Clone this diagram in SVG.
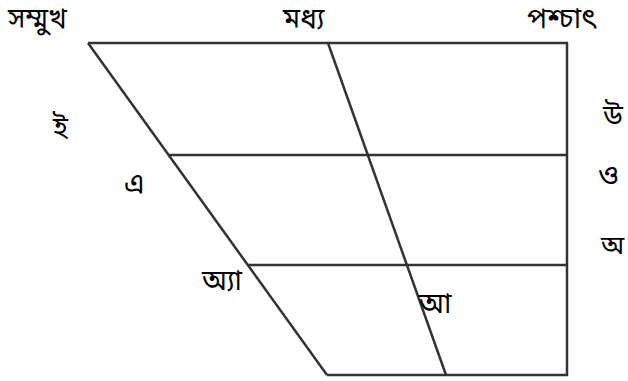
<svg xmlns="http://www.w3.org/2000/svg" width="628" height="381" viewBox="0 0 628 381">
<style>
.t{font-family:"Noto Sans Bengali","Noto Sans","Lohit Bengali","FreeSans",sans-serif;font-size:28px;fill:#000}
.l{stroke:#333;stroke-width:2.5;fill:none}
</style>
<rect width="628" height="381" fill="#fff"/>
<g id="connectors">
<line class="l" x1="88" y1="43" x2="568" y2="43"/>
<line class="l" x1="567" y1="43" x2="567" y2="376"/>
<line class="l" x1="327" y1="375" x2="568" y2="375"/>
<line class="l" x1="88" y1="43" x2="327" y2="375"/>
<line class="l" x1="328" y1="43" x2="446" y2="375"/>
<line class="l" x1="168" y1="155" x2="567" y2="155"/>
<line class="l" x1="248" y1="265" x2="567" y2="265"/>
</g>
<g id="front"><text class="t" x="8" y="28">সম্মুখ</text></g>
<g id="central"><text class="t" x="283" y="28">মধ্য</text></g>
<g id="back"><text class="t" x="527" y="28">পশ্চাৎ</text></g>
<g id="i"><text class="t" x="53" y="137">ই</text></g>
<g id="e"><text class="t" x="124" y="193">এ</text></g>
<g id="ae"><text class="t" x="202" y="290">অ্যা</text></g>
<g id="aa"><text class="t" x="419" y="313">আ</text></g>
<g id="u"><text class="t" x="603" y="125">উ</text></g>
<g id="o"><text class="t" x="598" y="185">ও</text></g>
<g id="a"><text class="t" x="601" y="254" style="font-size:26px">অ</text></g>
</svg>
